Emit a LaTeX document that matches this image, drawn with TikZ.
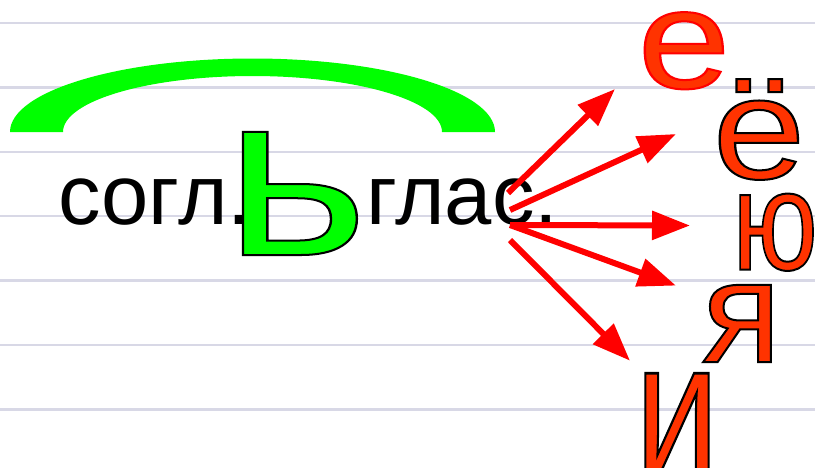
\documentclass[tikz,border=0pt]{standalone}
\usepackage{fontspec}
\setmainfont{Liberation Sans}
\usetikzlibrary{arrows.meta}
\definecolor{bridgegreen}{RGB}{0,255,0}
\definecolor{letterred}{RGB}{255,51,0}
\definecolor{arrowred}{RGB}{255,0,0}
\definecolor{ruleline}{RGB}{216,216,230}
\newcommand{\outlineon}[2]{\special{pdf:literal direct #1 RG 2 Tr #2 w}}
\newcommand{\outlineoff}{\special{pdf:literal direct 0 Tr}}
% size, x stretch, y stretch, stroke colour, letter
\newcommand{\bigletter}[5]
{   \fontsize{#1}{#1}\selectfont\scalebox{#2}[#3]{\outlineon{#4}{2}#5\outlineoff}
}

\begin{document}
\begin{tikzpicture}[x=1pt,y=-1pt,
  pointer/.style={draw=arrowred, line width=6pt, -{Triangle[length=38pt,width=28pt]}},
  letter/.style={anchor=base, inner sep=0pt, text=letterred},
  word/.style={anchor=base west, inner sep=0pt, font=\fontsize{85}{85}\selectfont}]

 \useasboundingbox (0,0) rectangle (815,467);
 \clip (0,0) rectangle (815,467);
 \fill[white] (0,0) rectangle (815,467);
 \foreach \k in {0,...,6}
   \draw[ruleline, line width=2.5pt] (0,23+64.4*\k) -- (815,23+64.4*\k);

 % bridge over the soft sign
 \fill[bridgegreen] (10,132) arc[start angle=180, end angle=360, x radius=242.5, y radius=73.5]
   -- (442,132) arc[start angle=0, end angle=-180, x radius=189.5, y radius=56] -- cycle;

 \node[anchor=base, inner sep=0pt, text=bridgegreen] (soft) at (296,255) {\bigletter{233}{1.19}{1}{0 0 0}{ь}};
 \node[word] (cons) at (58,224) {согл.};
 \node[word] (vow) at (366,224) {глас.};

 \node[letter] (ye) at (684,88) {\bigletter{141}{1.18}{1}{1 0 0}{е}};
 \node[letter] (yo) at (759,178.5) {\bigletter{145}{1.15}{1}{0 0 0}{ё}};
 \node[letter] (yu) at (775,269.5) {\bigletter{141}{0.81}{1}{0 0 0}{ю}};
 \node[letter] (ya) at (741.5,362) {\bigletter{146}{1}{1}{0 0 0}{я}};
 \node[letter] (i) at (677,475) {\bigletter{146}{1.03}{1.32}{0 0 0}{и}};

 \foreach \n/\s/\t in {1/{508,193}/{615,89}, 2/{510,210}/{676,134}, 3/{510,225}/{690,225.5},
                       4/{510,225}/{676,285.6}, 5/{510,240}/{630,360.7}}
 {  \coordinate (from\n) at (\s);
    \coordinate (to\n) at (\t);
    \draw[pointer] (from\n) -- (to\n);
 }

\end{tikzpicture}
\end{document}
